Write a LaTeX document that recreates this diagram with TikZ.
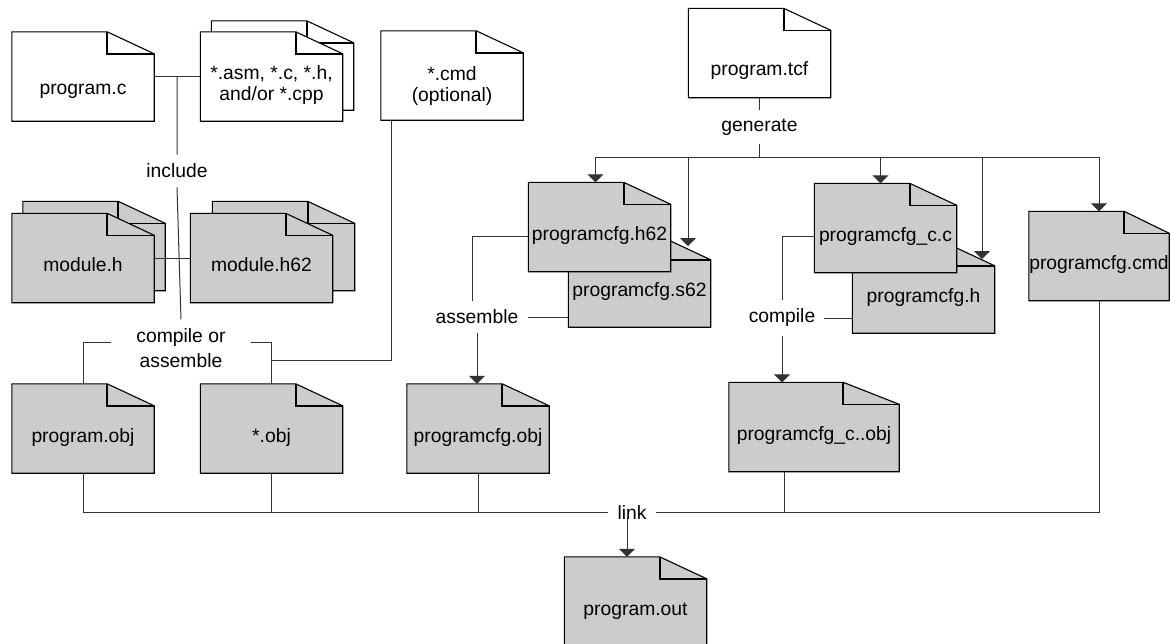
\documentclass[tikz,border=0pt]{standalone}
\usepackage{fontspec}
\setmainfont{Liberation Sans}
\usetikzlibrary{arrows.meta,backgrounds,calc}
\definecolor{docgray}{RGB}{204,204,204}
% file with a folded corner, drawn round a named node
\newcommand{\docfile}[3][47pt]{%
  \filldraw[docline,fill=#3] (#2.south west) -- (#2.north west) -- ([xshift=-#1]#2.north east) -- ([yshift=-22pt]#2.north east) -- (#2.south east) -- cycle;
  \draw[foldline] ([xshift=-#1]#2.north east) |- ([yshift=-22pt]#2.north east);
}
\tikzset{
  docbox/.style={minimum width=142pt, minimum height=89pt, inner sep=0pt, text height=27pt, text depth=0pt},
  twoline/.style={align=center, text height=47pt, text depth=0pt},
  lbl/.style={inner sep=9pt},
  docline/.style={draw=black, line width=1.1pt},
  foldline/.style={draw=black, line width=1.6pt},
  wire/.style={draw=black!80, line width=1pt},
  arr/.style={wire, -{Triangle[width=16pt,length=8pt]}},
}
\begin{document}
\begin{tikzpicture}[x=1pt, y=-1pt, font=\fontsize{19.3}{20.5}\selectfont]
\useasboundingbox (0,0) rectangle (1170,643);
% sources
\node[docbox, text height=35pt] (progc) at (83,76.5) {program.c};
\node[docbox] (asmback) at (282.5,65.5) {};
\node[docbox, twoline] (asm) at (271.5,76.5) {*.asm, *.c, *.h,\\and/or *.cpp};
\node[docbox, twoline, text height=51pt] (starcmd) at (452,75.5) {*.cmd\\(optional)};
\node[docbox, text height=44pt] (tcf) at (759.5,53) {program.tcf};
\node[docbox] (modhback) at (94,246) {};
\node[docbox] (modh) at (83,258) {module.h};
\node[docbox] (modh62back) at (283.5,246) {};
\node[docbox] (modh62) at (261.5,258) {module.h62};
% generated files
\node[docbox] (cfgs62) at (639.5,282.5) {programcfg.s62};
\node[docbox] (cfgh62) at (599.5,227) {programcfg.h62};
\node[docbox] (cfgh) at (923.5,288.5) {programcfg.h};
\node[docbox] (cfgcc) at (885.5,228) {programcfg\_c.c};
\node[docbox, minimum width=140pt] (cfgcmd) at (1099,256) {programcfg.cmd};
% objects
\node[docbox] (progobj) at (83,428.5) {program.obj};
\node[docbox] (starobj) at (271.5,428.5) {*.obj};
\node[docbox] (cfgobj) at (478,428.5) {programcfg.obj};
\node[docbox, minimum width=170pt] (ccobj) at (814,427) {programcfg\_c..obj};
\node[docbox] (progout) at (635.5,601.5) {program.out};
% step labels
\node[lbl] (include) at (177,171) {include};
\node[lbl, align=center, inner xsep=25pt] (compasm) at (181,348) {compile or\\[4pt]assemble};
\node[lbl] (generate) at (759.5,127) {generate};
\node[lbl] (assemble) at (477,317) {assemble};
\node[lbl] (compile) at (782,318) {compile};
\node[lbl] (link) at (632,512) {link};

\begin{scope}[on background layer]
  \docfile{progc}{white}
  \docfile{asmback}{white}
  \docfile{asm}{white}
  \docfile{starcmd}{white}
  \docfile{tcf}{white}
  \docfile{modhback}{docgray}
  \docfile{modh}{docgray}
  \docfile{modh62back}{docgray}
  \docfile{modh62}{docgray}
  \docfile{cfgs62}{docgray}
  \docfile{cfgh62}{docgray}
  \docfile{cfgh}{docgray}
  \docfile{cfgcc}{docgray}
  \docfile[45pt]{cfgcmd}{docgray}
  \docfile{progobj}{docgray}
  \docfile{starobj}{docgray}
  \docfile{cfgobj}{docgray}
  \docfile[56pt]{ccobj}{docgray}
  \docfile{progout}{docgray}
\end{scope}

% include and compile
\coordinate (incjoin) at ($(progc.east)!0.5!(asm.west)$);
\draw[wire] (progc.east) -- (asm.west);
\draw[wire] (incjoin) -- (include.north);
\draw[wire] (include.south) -- (compasm.north);
\draw[wire] (modh.east) -- (modh62.west);
\draw[wire] ([yshift=6pt]compasm.west) -| (progobj.north);
\draw[wire] ([yshift=6pt]compasm.east) -| (starobj.north);
\coordinate (cmdjoin) at (271.5,360);
\draw[wire] ([xshift=11pt]starcmd.south west) |- (cmdjoin);
% generate
\coordinate (genbus) at (759.5,157);
\coordinate (s62tip) at (688,246);
\coordinate (cfghtip) at (982,259);
\draw[wire] (tcf.south) -- (generate.north);
\draw[wire] (generate.south) -- (genbus);
\draw[arr] (genbus) -| ([xshift=-4pt]cfgh62.north);
\draw[arr] (genbus) -| (s62tip);
\draw[arr] (genbus) -| ([xshift=-5pt]cfgcc.north);
\draw[arr] (genbus) -| (cfghtip);
\draw[arr] (genbus) -| (cfgcmd.north);
% assemble
\draw[wire] ([yshift=-9pt]cfgh62.west) -| ([xshift=-5pt]assemble.north);
\draw[arr] (assemble.south) -- (assemble.south |- cfgobj.north);
\draw[wire] (assemble.east) -- (assemble.east -| cfgs62.west);
% compile
\draw[wire] ([yshift=-8pt]cfgcc.west) -| (compile.north);
\draw[arr] (compile.south) -- (compile.south |- ccobj.north);
\draw[wire] (compile.east) -- (compile.east -| cfgh.west);
% link
\coordinate (ccdrop) at ([xshift=-30pt]ccobj.south);
\coordinate (linkdrop) at ([xshift=-5pt,yshift=-5pt]link.center);
\draw[wire] (link.west) -| (progobj.south);
\draw[wire] (starobj.south) -- (starobj.south |- link);
\draw[wire] (cfgobj.south) -- (cfgobj.south |- link);
\draw[wire] (ccdrop) -- (ccdrop |- link);
\draw[wire] (link.east) -| (cfgcmd.south);
\draw[arr] (linkdrop) -- (linkdrop |- progout.north);
\end{tikzpicture}
\end{document}
